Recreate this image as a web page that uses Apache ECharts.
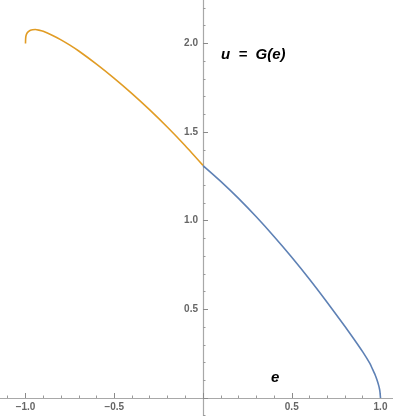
<!DOCTYPE html>
<html lang="en" style="height: 100%">
<head>
  <meta charset="utf-8">
</head>
<body style="height: 100%; margin: 0; background: #fff">
  <div id="container" style="width: 393px; height: 416px"></div>

  <script type="text/javascript" src="https://cdn.jsdelivr.net/npm/echarts@6/dist/echarts.min.js"></script>

  <script type="text/javascript">
    // branch e < 0 (orange)
    var eLeft = [-1.0, -0.999, -0.996, -0.99, -0.982, -0.972, -0.96, -0.945, -0.925, -0.9,
      -0.85, -0.8, -0.75, -0.7, -0.6, -0.5, -0.4, -0.3, -0.2, -0.1, 0];
    var uLeft = [2.0, 2.03, 2.047, 2.06, 2.068, 2.074, 2.077, 2.078, 2.075, 2.068,
      2.046, 2.02, 1.99, 1.957, 1.883, 1.803, 1.717, 1.625, 1.527, 1.423, 1.312];

    // branch e > 0 (blue)
    var eRight = [0, 0.1, 0.2, 0.3, 0.4, 0.5, 0.6, 0.7, 0.8, 0.85, 0.9, 0.94, 0.955, 0.97, 0.98, 0.99, 0.995, 0.997, 1.0];
    var uRight = [1.311, 1.222, 1.126, 1.022, 0.911, 0.794, 0.67, 0.539, 0.403, 0.333, 0.26, 0.195, 0.163, 0.13, 0.103, 0.07, 0.048, 0.034, 0];

    var xTicks = [-1.0, -0.5, 0.5, 1.0];
    var yTicks = [0.5, 1.0, 1.5, 2.0];

    var pairs = function (xs, ys) {
      return xs.map(function (x, i) { return [x, ys[i]]; });
    };
    var fmt = function (ticks) {
      return function (v) {
        for (var i = 0; i < ticks.length; i++) {
          if (Math.abs(ticks[i] - v) < 1e-9) {
            return v.toFixed(1).replace('-', '\u2212');
          }
        }
        return '';
      };
    };

    var dom = document.getElementById('container');
    var myChart = echarts.init(dom, null, { renderer: 'canvas' });

    // grid is larger than the canvas so that min/max are multiples of 0.5;
    // axes are moved onto the origin with offset (labels follow them)
    var gridLeft = -63.25, gridRight = -76.25, gridTop = -45.25, gridBottom = -70.65;

    var axisCommon = {
      type: 'value',
      interval: 0.5,
      splitLine: { show: false },
      axisLine: { show: true, onZero: false, lineStyle: { color: '#a8a8a8', width: 1.2 } },
      axisTick: { show: true, inside: true, length: 5, lineStyle: { color: '#8a8a8a', width: 1 } },
      minorTick: { show: true, splitNumber: 5, length: 2.5, lineStyle: { color: '#9a9a9a', width: 1 } },
      minorSplitLine: { show: false }
    };
    var labelCommon = {
      fontSize: 10,
      fontWeight: 'bold',
      color: '#666',
      fontFamily: 'Liberation Sans'
    };

    var option = {
      animation: false,
      backgroundColor: '#fff',
      grid: {
        left: gridLeft,
        right: gridRight,
        top: gridTop,
        bottom: gridBottom,
        containLabel: false,
        outerBoundsMode: 'none'
      },
      xAxis: Object.assign({}, axisCommon, {
        min: -1.5,
        max: 1.5,
        position: 'bottom',
        offset: -(416 - gridBottom - 398),
        axisLabel: Object.assign({ formatter: fmt(xTicks), margin: 4 }, labelCommon)
      }),
      yAxis: Object.assign({}, axisCommon, {
        min: -0.5,
        max: 2.5,
        position: 'left',
        offset: -(203 - gridLeft),
        axisLabel: Object.assign({ formatter: fmt(yTicks), margin: 5 }, labelCommon)
      }),
      graphic: [
        {
          type: 'text',
          left: 221,
          top: 47,
          style: {
            text: 'u  =  G(e)',
            font: 'italic bold 15px "Liberation Sans"',
            fill: '#000'
          }
        },
        {
          type: 'text',
          left: 271,
          top: 370,
          style: {
            text: 'e',
            font: 'italic bold 15px "Liberation Sans"',
            fill: '#000'
          }
        }
      ],
      series: [
        {
          type: 'line',
          data: pairs(eLeft, uLeft),
          showSymbol: false,
          smooth: 0.2,
          lineStyle: { color: '#e19c24', width: 1.6 },
          z: 3
        },
        {
          type: 'line',
          data: pairs(eRight, uRight),
          showSymbol: false,
          smooth: 0.2,
          lineStyle: { color: '#5e81b5', width: 1.6 },
          z: 3
        }
      ]
    };

    myChart.setOption(option);
    window.addEventListener('resize', myChart.resize);
  </script>
</body>
</html>
